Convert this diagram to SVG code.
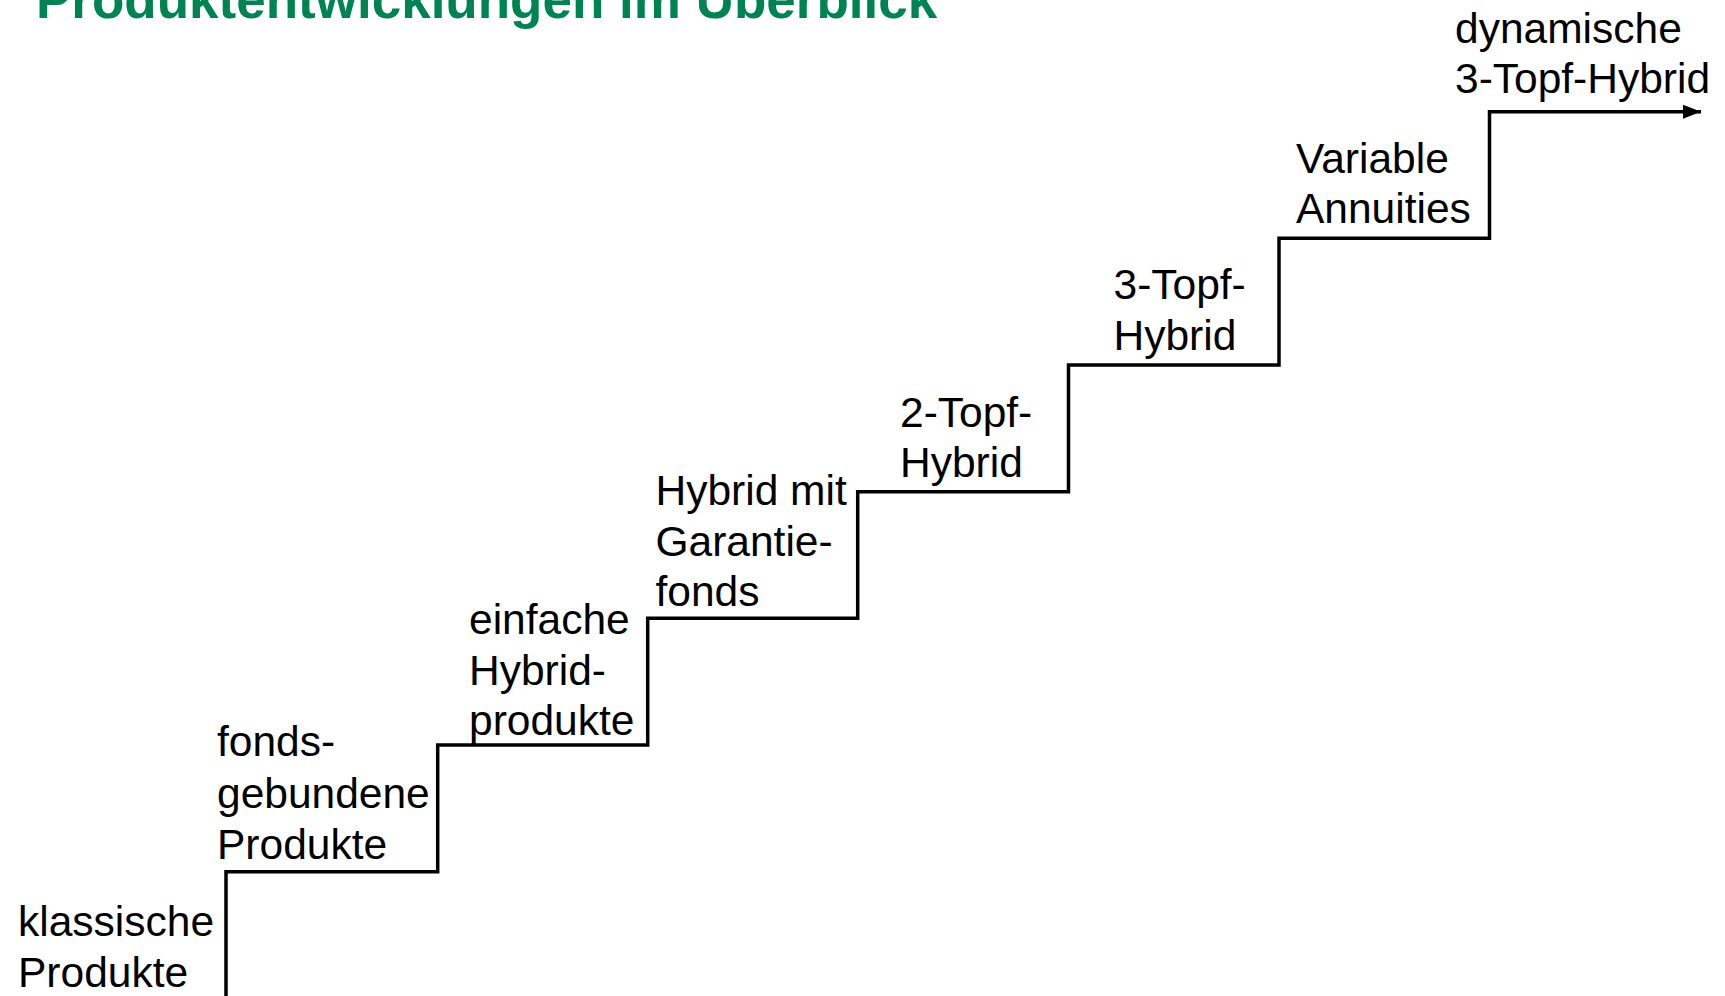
<svg xmlns="http://www.w3.org/2000/svg" width="1725" height="996" viewBox="0 0 1725 996">
  <style>
    .lbl { font-family: "Liberation Sans", Arial, sans-serif; font-size: 42.5px; fill: #000000; }
    .title { font-family: "Liberation Sans", Arial, sans-serif; font-size: 53px; font-weight: bold; fill: #008352; }
    .step { fill: none; stroke: #000000; stroke-width: 3.5; stroke-linejoin: miter; stroke-linecap: butt; }
  </style>
  <defs>
    <marker id="arrow" markerUnits="userSpaceOnUse" markerWidth="20" markerHeight="16" refX="18" refY="7" orient="auto">
      <path d="M0,0 L18,7 L0,14 Z" fill="#000000"/>
    </marker>
  </defs>
  <rect width="1725" height="996" fill="#ffffff"/>
  <g id="title">
    <text class="title" x="36" y="18">Produktentwicklungen im Überblick</text>
  </g>
  <g id="connectors">
    <path class="step" marker-end="url(#arrow)" d="M226,996 V871.7 H437.7 V745 H647.7 V618.3 H857.7 V491.7 H1068.5 V365 H1279 V238.3 H1489.5 V111.7 H1701"/>
  </g>
  <g id="node-klassische">
    <text class="lbl" x="18" y="936">klassische</text>
    <text class="lbl" x="18" y="987">Produkte</text>
  </g>
  <g id="node-fondsgebundene">
    <text class="lbl" x="217" y="756">fonds-</text>
    <text class="lbl" x="217" y="807.5">gebundene</text>
    <text class="lbl" x="217" y="858.5">Produkte</text>
  </g>
  <g id="node-einfache-hybrid">
    <text class="lbl" x="469" y="634">einfache</text>
    <text class="lbl" x="469" y="685">Hybrid-</text>
    <text class="lbl" x="469" y="735">produkte</text>
  </g>
  <g id="node-hybrid-garantiefonds">
    <text class="lbl" x="655.5" y="505">Hybrid mit</text>
    <text class="lbl" x="655.5" y="556">Garantie-</text>
    <text class="lbl" x="655.5" y="606">fonds</text>
  </g>
  <g id="node-2-topf">
    <text class="lbl" x="900" y="427">2-Topf-</text>
    <text class="lbl" x="900" y="477">Hybrid</text>
  </g>
  <g id="node-3-topf">
    <text class="lbl" x="1113.5" y="299">3-Topf-</text>
    <text class="lbl" x="1113.5" y="350">Hybrid</text>
  </g>
  <g id="node-variable-annuities">
    <text class="lbl" x="1296" y="173">Variable</text>
    <text class="lbl" x="1296" y="223">Annuities</text>
  </g>
  <g id="node-dynamische">
    <text class="lbl" x="1455" y="43">dynamische</text>
    <text class="lbl" x="1455" y="93">3-Topf-Hybrid</text>
  </g>
</svg>
